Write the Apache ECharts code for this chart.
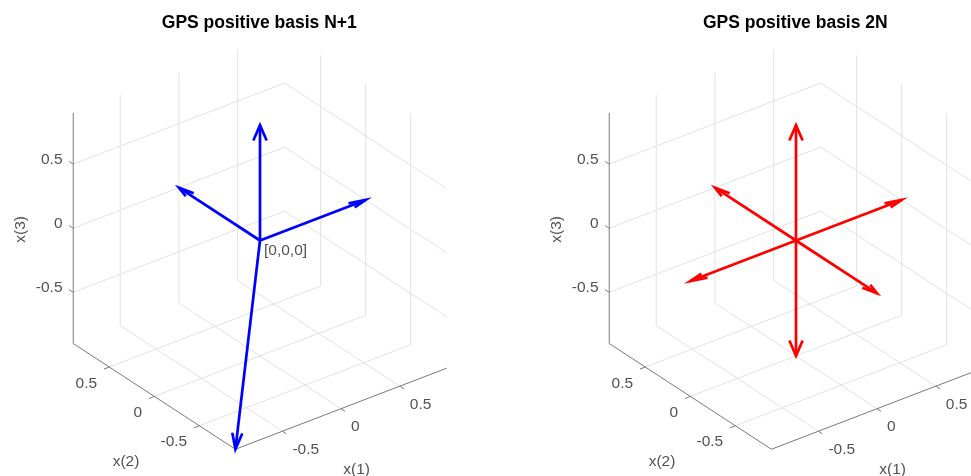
<!DOCTYPE html>
<html>
<head>
<meta charset="utf-8">
<script src="https://cdn.jsdelivr.net/npm/echarts@6/dist/echarts.min.js"></script>
<style>html,body{margin:0;padding:0;background:#fff}#c{width:971px;height:476px}</style>
</head>
<body>
<div id="c"></div>
<script>
// ---------- data ----------
const titles = ['GPS positive basis N+1', 'GPS positive basis 2N'];
const vectorsNp1 = [[0.9, 0, 0], [0, 0.9, 0], [0, 0, 0.9], [-0.9, -0.9, -0.9]];
const vectors2N = [[0.9, 0, 0], [0, 0.9, 0], [0, 0, 0.9], [-0.9, 0, 0], [0, -0.9, 0], [0, 0, -0.9]];
const arrowOrigin = [0, 0, 0];
const axisLimits = [-0.9, 0.9];
const tickValues = [-0.5, 0, 0.5];
const tickLabels = ['-0.5', '0', '0.5'];
const axisNames = ['x(1)', 'x(2)', 'x(3)'];
const originLabel = '[0,0,0]';
const arrowColors = ['#0000ff', '#ff0000'];
const viewAz = -37.5, viewEl = 30;

// ---------- layout / style ----------
const S = 148;                 // px per projected unit
const centersX = [260, 796];   // pixel position of [0,0,0]
const centerY = 240.5;
const FONT = 'Liberation Sans, Arial, Helvetica, sans-serif';
const tickLen = 0.045;
const headRel = 0.145, headMax = 0.12, headHalf = 0.034, headHalfVertical = 0.045;

const az = viewAz * Math.PI / 180, el = viewEl * Math.PI / 180;
function proj(p) {
  return [Math.cos(az) * p[0] + Math.sin(az) * p[1],
          -Math.sin(el) * Math.sin(az) * p[0] + Math.sin(el) * Math.cos(az) * p[1] + Math.cos(el) * p[2]];
}
function add(a, b) { return [a[0] + b[0], a[1] + b[1], a[2] + b[2]]; }
function sub(a, b) { return [a[0] - b[0], a[1] - b[1], a[2] - b[2]]; }
function mul(a, k) { return [a[0] * k, a[1] * k, a[2] * k]; }
function norm(a) { return Math.hypot(a[0], a[1], a[2]); }
function cross(a, b) { return [a[1] * b[2] - a[2] * b[1], a[2] * b[0] - a[0] * b[2], a[0] * b[1] - a[1] * b[0]]; }
function offsetPx(pt2, dx, dy) { return [pt2[0] + dx / S, pt2[1] - dy / S]; }

const lo = axisLimits[0], hi = axisLimits[1];

function gridSegments() {
  const segs = [];
  tickValues.forEach(t => {
    segs.push([[t, hi, lo], [t, hi, hi]]);
    segs.push([[lo, hi, t], [hi, hi, t]]);
    segs.push([[hi, t, lo], [hi, t, hi]]);
    segs.push([[hi, lo, t], [hi, hi, t]]);
    segs.push([[t, lo, lo], [t, hi, lo]]);
    segs.push([[lo, t, lo], [hi, t, lo]]);
  });
  return segs;
}
function axisSegments() {
  const segs = [
    [[lo, hi, lo], [lo, hi, hi]],   // x(3)
    [[lo, lo, lo], [lo, hi, lo]],   // x(2)
    [[lo, lo, lo], [hi, lo, lo]]    // x(1)
  ];
  tickValues.forEach(t => {
    segs.push([[lo, hi, t], [lo, hi + tickLen, t]]);
    segs.push([[lo, t, lo], [lo - tickLen, t, lo]]);
    segs.push([[t, lo, lo], [t, lo - tickLen, lo]]);
  });
  return segs;
}
function arrows(origin, vectors) {
  const shafts = [], heads = [];
  vectors.forEach(v => {
    const tip = add(origin, v);
    const len = norm(v);
    const L = Math.min(headRel * len, headMax);
    const base = sub(tip, mul(v, L / len));
    let w = cross(v, [0, 0, 1]);
    let hw = headHalf;
    if (norm(w) < 1e-9) { w = [Math.cos(az), Math.sin(az), 0]; hw = headHalfVertical; }
    else w = mul(w, 1 / norm(w));
    shafts.push([origin, tip]);
    heads.push([add(base, mul(w, hw)), tip, add(base, mul(w, -hw))]);
  });
  return { shafts, heads };
}
function textItems(withOrigin) {
  const items = [];
  tickValues.forEach((t, k) => {
    items.push({ value: offsetPx(proj([lo, hi, t]), -10.7, -4.4), name: tickLabels[k], label: { align: 'right' } });
    items.push({ value: offsetPx(proj([lo, t, lo]), -12.2, 16.3), name: tickLabels[k], label: { align: 'right' } });
    items.push({ value: offsetPx(proj([t, lo, lo]), 10.0, 18.3), name: tickLabels[k], label: { align: 'left' } });
  });
  items.push({ value: offsetPx(proj([0, lo, lo]), 15.6, 60.6), name: axisNames[0], label: { align: 'center' } });
  items.push({ value: offsetPx(proj([lo, 0, lo]), -28.3, 65.3), name: axisNames[1], label: { align: 'center' } });
  items.push({ value: offsetPx(proj([lo, hi, 0]), -53, 1.2), name: axisNames[2], label: { align: 'center', rotate: 90 } });
  if (withOrigin) items.push({ value: offsetPx(proj(arrowOrigin), 4, 10.4), name: originLabel, label: { align: 'left' } });
  return items;
}

const grids = [], xAxes = [], yAxes = [], series = [], titleList = [];
const xRanges = [[-1.6, 1.6], [-1.6, 1.18]];
const yr = [-1.58, 1.55];
[vectorsNp1, vectors2N].forEach((vecs, i) => {
  const xr = xRanges[i];
  grids.push({ left: centersX[i] + xr[0] * S, top: centerY - yr[1] * S,
               width: (xr[1] - xr[0]) * S, height: (yr[1] - yr[0]) * S });
  xAxes.push({ type: 'value', gridIndex: i, min: xr[0], max: xr[1], show: false });
  yAxes.push({ type: 'value', gridIndex: i, min: yr[0], max: yr[1], show: false });
  titleList.push({ text: titles[i], left: centersX[i] - 0.7, top: 14.5, padding: 0, textAlign: 'center',
                   textStyle: { fontFamily: FONT, fontSize: 17.5, fontWeight: 'bold', color: '#000' } });
  const common = { coordinateSystem: 'cartesian2d', xAxisIndex: i, yAxisIndex: i, silent: true, polyline: true, clip: false };
  series.push(Object.assign({ type: 'lines', z: 1,
    lineStyle: { color: '#dedede', width: 0.9, opacity: 1 },
    data: gridSegments().map(s => ({ coords: s.map(proj) })) }, common));
  series.push(Object.assign({ type: 'lines', z: 2,
    lineStyle: { color: '#7a7a7a', width: 1, opacity: 1 },
    data: axisSegments().map(s => ({ coords: s.map(proj) })) }, common));
  const a = arrows(arrowOrigin, vecs);
  series.push(Object.assign({ type: 'lines', z: 3,
    lineStyle: { color: arrowColors[i], width: 2.7, opacity: 1, cap: 'butt' },
    data: a.shafts.map(s => ({ coords: s.map(proj) })) }, common));
  series.push(Object.assign({ type: 'lines', z: 4,
    lineStyle: { color: arrowColors[i], width: 2.7, opacity: 1, cap: 'butt', join: 'miter' },
    data: a.heads.map(s => ({ coords: s.map(proj) })) }, common));
  series.push({ type: 'scatter', xAxisIndex: i, yAxisIndex: i, symbolSize: 0, silent: true, z: 5, clip: false,
    label: { show: true, position: 'inside', formatter: '{b}', verticalAlign: 'middle',
             fontFamily: FONT, fontSize: 15.5, color: '#262626' },
    data: textItems(i === 0) });
});

const chart = echarts.init(document.getElementById('c'), null, { renderer: 'canvas' });
chart.setOption({
  animation: false,
  backgroundColor: '#ffffff',
  title: titleList,
  grid: grids,
  xAxis: xAxes,
  yAxis: yAxes,
  series: series
});
</script>
</body>
</html>
